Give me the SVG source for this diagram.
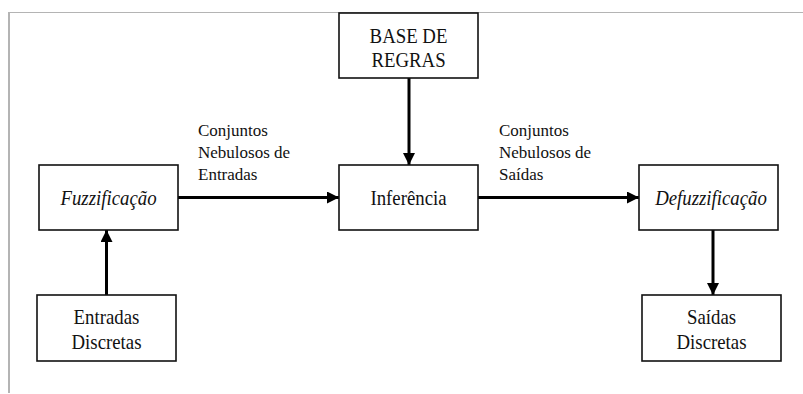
<svg xmlns="http://www.w3.org/2000/svg" width="803" height="394" viewBox="0 0 803 394">
  <style>
    text { font-family: 'Liberation Serif', 'Times New Roman', Times, 'DejaVu Serif', serif; fill: #111111; }
    .box { fill: #ffffff; stroke: #111111; stroke-width: 1.6; }
    .btxt { font-size: 22px; text-anchor: middle; }
    .it { font-style: italic; }
    .lbl { font-size: 17px; }
    .conn { stroke: #000000; stroke-width: 3; fill: none; marker-end: url(#arrow); }
    .frame { stroke: #b4b4b4; fill: none; }
  </style>
  <defs>
    <marker id="arrow" viewBox="0 0 12 12" refX="12" refY="6" markerWidth="12" markerHeight="12" markerUnits="userSpaceOnUse" orient="auto">
      <path d="M0,0 L12,6 L0,12 Z" fill="#000000"/>
    </marker>
  </defs>

  <rect width="803" height="394" fill="#ffffff"/>

  <!-- page frame -->
  <g id="frame">
    <line class="frame" x1="8" y1="12.5" x2="803" y2="12.5" stroke-width="1.2"/>
    <line class="frame" x1="9" y1="12" x2="9" y2="393" stroke-width="2"/>
  </g>

  <!-- connectors -->
  <g id="connectors">
    <line class="conn" x1="409" y1="78" x2="409" y2="165"/>
    <line class="conn" x1="178" y1="197.5" x2="339" y2="197.5"/>
    <line class="conn" x1="478" y1="197.5" x2="639" y2="197.5"/>
    <line class="conn" x1="106.5" y1="295" x2="106.5" y2="230"/>
    <line class="conn" x1="713" y1="230" x2="713" y2="295"/>
    <text class="lbl" x="198" y="136">Conjuntos</text>
    <text class="lbl" x="198" y="158">Nebulosos de</text>
    <text class="lbl" x="198" y="180">Entradas</text>
    <text class="lbl" x="499" y="136">Conjuntos</text>
    <text class="lbl" x="499" y="158">Nebulosos de</text>
    <text class="lbl" x="499" y="180">Saídas</text>
  </g>

  <!-- nodes -->
  <g id="base-regras">
    <rect class="box" x="339" y="13" width="139" height="65"/>
    <g transform="translate(408.5 43) scale(0.855 1)"><text class="btxt">BASE DE</text></g>
    <g transform="translate(408.5 67) scale(0.855 1)"><text class="btxt">REGRAS</text></g>
  </g>

  <g id="fuzzificacao">
    <rect class="box" x="39" y="165" width="139" height="65"/>
    <g transform="translate(108.5 205) scale(0.855 1)"><text class="btxt it">Fuzzificação</text></g>
  </g>

  <g id="inferencia">
    <rect class="box" x="339" y="165" width="139" height="65"/>
    <g transform="translate(408.5 205) scale(0.855 1)"><text class="btxt">Inferência</text></g>
  </g>

  <g id="defuzzificacao">
    <rect class="box" x="639" y="165" width="139" height="65"/>
    <g transform="translate(711 205) scale(0.855 1)"><text class="btxt it">Defuzzificação</text></g>
  </g>

  <g id="entradas-discretas">
    <rect class="box" x="37" y="295" width="139" height="66"/>
    <g transform="translate(106.5 324) scale(0.855 1)"><text class="btxt">Entradas</text></g>
    <g transform="translate(106.5 349) scale(0.855 1)"><text class="btxt">Discretas</text></g>
  </g>

  <g id="saidas-discretas">
    <rect class="box" x="642" y="295" width="139" height="66"/>
    <g transform="translate(711.5 324) scale(0.855 1)"><text class="btxt">Saídas</text></g>
    <g transform="translate(711.5 349) scale(0.855 1)"><text class="btxt">Discretas</text></g>
  </g>
</svg>
